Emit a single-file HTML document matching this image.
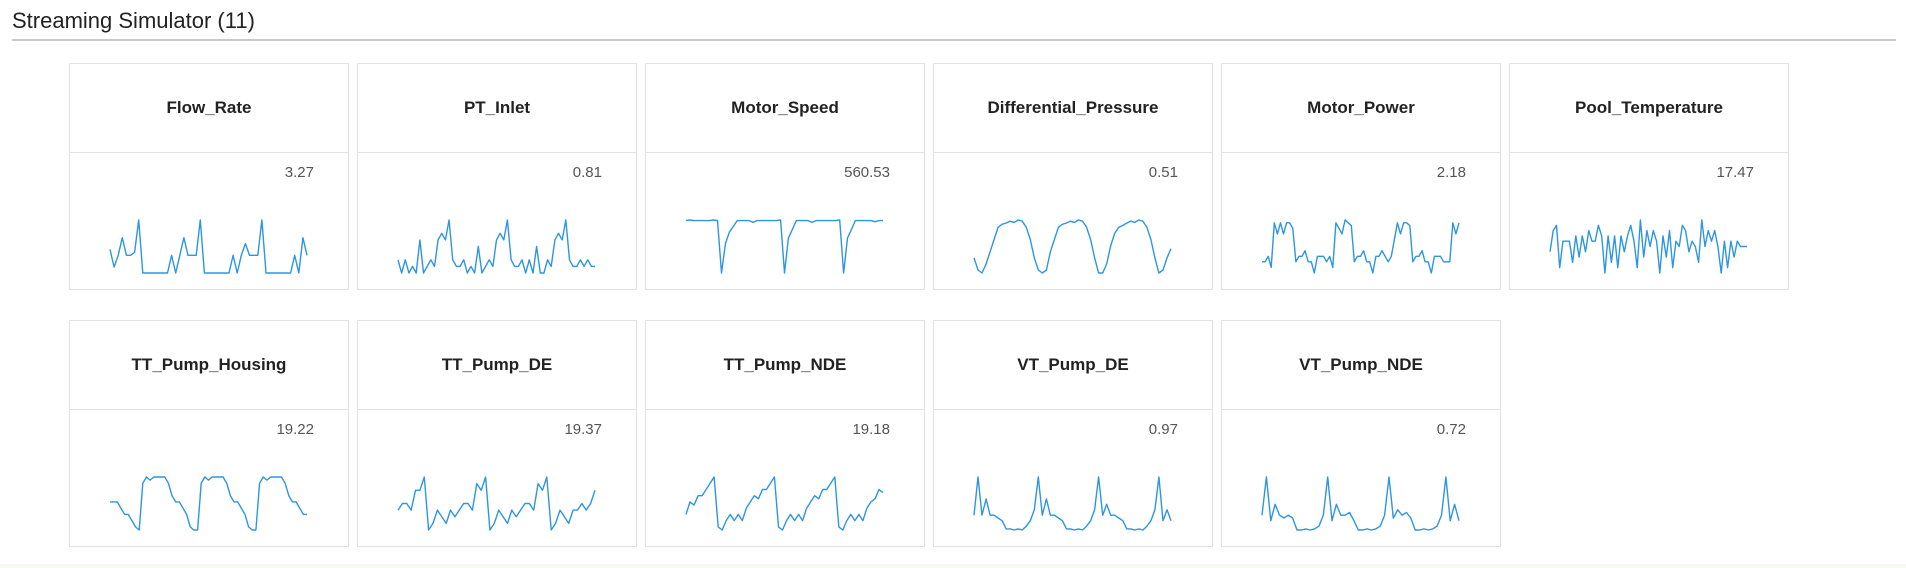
<!DOCTYPE html>
<html><head><meta charset="utf-8">
<style>
body{margin:0;width:1906px;height:568px;background:#fff;font-family:"Liberation Sans",sans-serif;overflow:hidden;position:relative}
#title{position:absolute;left:12px;top:8px;font-size:22px;color:#222}
#rule{position:absolute;left:12px;top:39px;width:1884px;height:2px;background:#c8c8cc}
.card{position:absolute;width:280px;height:227px;border:1px solid #e2e2e6;box-sizing:border-box;background:#fff}
.card .hd{height:88px;border-bottom:1px solid #e2e2e6;display:flex;align-items:center;justify-content:center;font-size:17px;color:#222;font-weight:bold}
.card .val{position:absolute;right:34px;top:100px;font-size:15px;color:#555}
.card svg{position:absolute;left:0;top:0}
#foot{position:absolute;left:0;top:564px;width:1906px;height:4px;background:#f6f8f2}
</style></head>
<body>
<div id="title">Streaming Simulator (11)</div>
<div id="rule"></div>
<div id="cards"></div>
<div id="foot"></div>
<script>
const names=["Flow_Rate","PT_Inlet","Motor_Speed","Differential_Pressure","Motor_Power","Pool_Temperature","TT_Pump_Housing","TT_Pump_DE","TT_Pump_NDE","VT_Pump_DE","VT_Pump_NDE"];
const values=["3.27","0.81","560.53","0.51","2.18","17.47","19.22","19.37","19.18","0.97","0.72"];
const sFlowRate=[4,1,3,6,3,3,3.5,9,0,0,0,0,0,0,0,3,0,3,6,3,3,3,9,0,0,0,0,0,0,0,3,0,3,5,3,3,3,9,0,0,0,0,0,0,0,3,0,6,3];
const sPTInlet=[3,1,3,1,2,1,6,1,2,3,2,6,7,6,9,3,2,2,3,1,2,1,5,1,2,3,2,6,7,6,9,3,2,2,3,1,3,1,5,1,1,3,2,6,7,6,9,3,2,2,3,2,3,2,2];
const sMotorSpeed=[9,9.1,9,9,9,9,9,9.1,9,0,5,7,8,9,9,9,9,8.7,9,9,9,9,9,9,9.1,0,6,7.5,9,9,9,9,8.7,9,9,9,9,9,9,9.1,0,6,7.5,9,9,9,9,9,8.8,9,9];
const sDiffPressure=[3,1,0.5,2,4,6,8,8.5,8.7,9,8.8,9.2,9,8,6,3,1,0.5,1,4,6,8,8.5,8.7,9,8.8,9.2,9,8,6,3,0.5,0.5,2,5,7,8,8.3,8.7,9,8.8,9.2,9,8,6,3,0.5,1,3,4.5];
const sMotorPower=[2,2,3,1,9,7,9,7,9,9,8,2,3,3,4,2,2,0,3,3,3,2,3,1,9,8,7,9.5,9,8.5,2,3,3,4,2,2,0,3,3,4,3,2,3,6,9,7,9,9,8.5,2,3,3,4,2,2,0,3,3,3,2,2,2,9,7,9];
const sPoolTemp=[4,8,9,1,6,6,6,2,7,3,7,4,8,6,6,9,7,0,7,2,7,1,7,4,7,9,6,1,10,3,8,5,8,6,0,7,3,8,1,6,5,9,8,4,6,5,2,10,5,8,6,8,5,0,6,1,6,3,6,5,5,5];
const sTTHousing=[5,5,5,4,3,3,2,1,0.5,8,9,8.5,9,9,9,9,8,6,5,5,4,3,1,0.5,0.5,8,9,8.5,9,9,9,9,8,6,5,5,4,3,1,0.5,0.5,8,9,8.5,9,9,9,9,8,6,5,5,4,3,3];
const sTTDE=[4,5,5,4,7,7,9,1,2,4,3,2,4,3,4,5,5,4,8,7,9,1,2,4,3,2,4,3,4,5,5,4,8,7,9,1,2,4,3,2,4,4,5,4,5,7];
const sTTNDE=[3,5,4.5,6,6,7,8,9,1,0.5,2,3,2,3,2,4,5,6,5.5,7,7,8,9,1,0.5,2,3,2,3,2,4,5,6,5.5,7,7,8,9,1,0.5,2,3,2,3,2,4,5,5.5,7,6.5];
const sVTDE=[3,10,3,6,3,3,2.5,2,0.5,0.5,0.3,0.5,0.3,1,2,4,10,3,6,3,3,2.5,2,0.5,0.5,0.3,0.5,0.3,1,2,4,10,3,5,3,3,2.5,2,0.5,0.5,0.3,0.5,0.3,1,2,4,10,2,4,2];
const sVTNDE=[3,10,2,5,3,2.5,3,2.5,0.3,0.3,0.5,0.3,0.5,1,3,10,2,5,3,3,3.5,2,0.3,0.3,0.5,0.3,0.5,1,3,10,2.5,4,3,3.5,2.5,0.3,0.3,0.5,0.3,0.5,1,3,10,2,5,2];
const series=[sFlowRate,sPTInlet,sMotorSpeed,sDiffPressure,sMotorPower,sPoolTemp,sTTHousing,sTTDE,sTTNDE,sVTDE,sVTNDE];

const wrap=document.getElementById('cards');
const NS="http://www.w3.org/2000/svg";
names.forEach((n,i)=>{
  const row=Math.floor(i/6), col=i%6;
  const card=document.createElement('div');
  card.className='card';
  card.style.left=(69+col*288)+'px';
  card.style.top=(63+row*257)+'px';
  
  
  const hd=document.createElement('div');
  hd.className='hd';hd.textContent=n;
  
  
  card.appendChild(hd);
  const v=document.createElement('div');
  v.className='val';v.textContent=values[i];
  
  
  card.appendChild(v);
  const svg=document.createElementNS(NS,'svg');
  svg.setAttribute('width','280');svg.setAttribute('height','227');
  
  
  const d=series[i];
  const mn=Math.min(...d), mx=Math.max(...d);
  const x0=40,x1=237,yTop=156,yBot=209;
  const xs=k=>x0+(x1-x0)*k/(d.length-1);
  const ys=val=>yBot-(yBot-yTop)*(val-mn)/((mx-mn)||1);
  const pts=d.map((val,k)=>xs(k).toFixed(1)+','+ys(val).toFixed(1)).join(' ');
  const pl=document.createElementNS(NS,'polyline');
  pl.setAttribute('points',pts);
  pl.setAttribute('fill','none');pl.setAttribute('stroke','#2d95e3');pl.setAttribute('stroke-width','1.4');
  pl.setAttribute('stroke-linejoin','round');
  
  
  svg.appendChild(pl);
  card.appendChild(svg);
  wrap.appendChild(card);
});
</script>
</body></html>
